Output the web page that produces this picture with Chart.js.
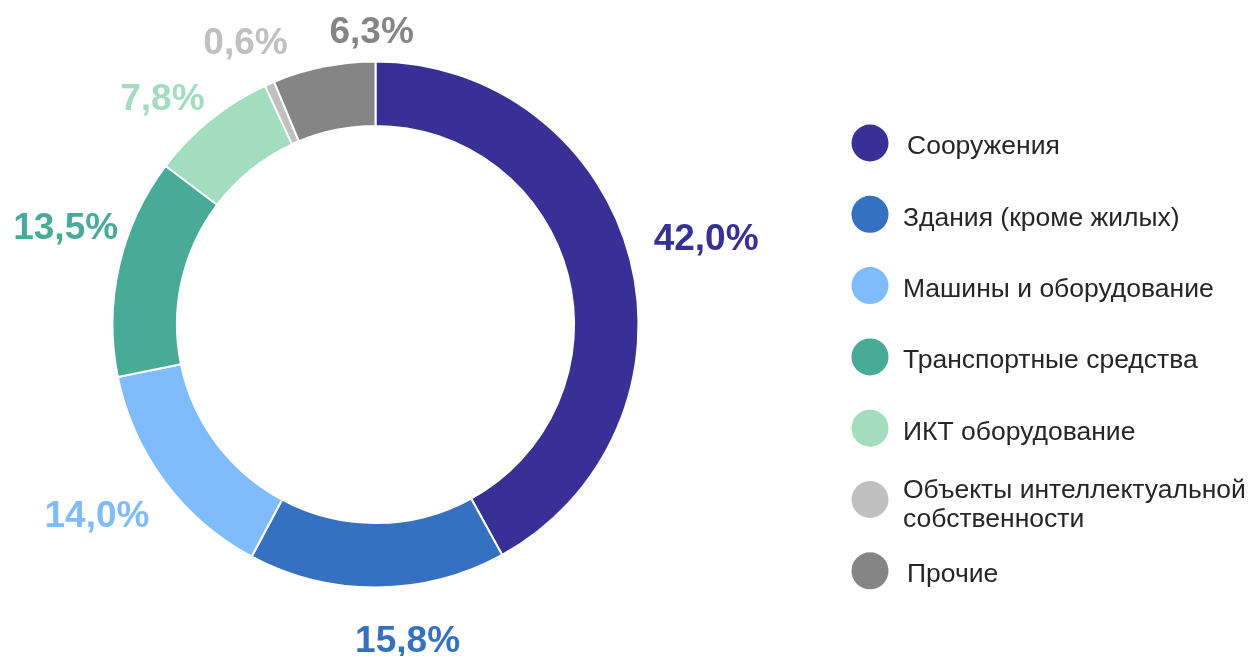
<!DOCTYPE html>
<html>
<head>
<meta charset="utf-8">
<script src="https://cdn.jsdelivr.net/npm/chart.js@4"></script>
<style>
    html, body { margin: 0; padding: 0; background: #fff; }
</style>
</head>
<body>
<canvas id="myChart" width="1251" height="656"></canvas>
<script>
// datos
const categorias = [
    'Сооружения',
    'Здания (кроме жилых)',
    'Машины и оборудование',
    'Транспортные средства',
    'ИКТ оборудование',
    ['Объекты интеллектуальной', 'собственности'],
    'Прочие'
];
const valores = [42.0, 15.8, 14.0, 13.5, 7.8, 0.6, 6.3];
const colores = ['#373195', '#3670C1', '#80BCFC', '#47AB98', '#A2DDBE', '#C0C0C0', '#858585'];

// ajustes de posicion de las etiquetas (px)
const desplazamientos = [[11, -3], [30, -13], [-14, -5], [12, -23], [-6, 32], [3, 21], [61, 32]];

const etiquetasPlugin = {
    id: 'etiquetas',
    afterDatasetsDraw(chart) {
        const ctx = chart.ctx;
        const meta = chart.getDatasetMeta(0);
        ctx.save();
        ctx.font = 'bold 37px "Liberation Sans", Arial, sans-serif';
        ctx.textAlign = 'center';
        ctx.textBaseline = 'middle';
        meta.data.forEach((arc, i) => {
            const p = arc.getProps(['x', 'y', 'startAngle', 'endAngle'], true);
            const mid = (p.startAngle + p.endAngle) / 2;
            const r = 330;
            const x = p.x + Math.cos(mid) * r + desplazamientos[i][0];
            const y = p.y + Math.sin(mid) * r + desplazamientos[i][1];
            ctx.fillStyle = colores[i];
            ctx.fillText(valores[i].toFixed(1).replace('.', ',') + '%', x, y);
        });
        ctx.restore();
    }
};

const leyendaPlugin = {
    id: 'leyenda',
    afterDraw(chart) {
        const ctx = chart.ctx;
        ctx.save();
        ctx.font = '26.5px "Liberation Sans", Arial, sans-serif';
        ctx.textBaseline = 'middle';
        ctx.textAlign = 'left';
        categorias.forEach((cat, i) => {
            const cy = 143 + i * 71.3;
            ctx.beginPath();
            ctx.arc(870, cy, 18.5, 0, Math.PI * 2);
            ctx.fillStyle = colores[i];
            ctx.fill();
            ctx.fillStyle = '#262626';
            if (Array.isArray(cat)) {
                ctx.fillText(cat[0], 903, cy - 9);
                ctx.fillText(cat[1], 903, cy + 20);
            } else {
                // primera y ultima entrada un poco mas a la derecha, como en el original
                const x = (i === 0 || i === categorias.length - 1) ? 907 : 903;
                ctx.fillText(cat, x, cy + 4);
            }
        });
        ctx.restore();
    }
};

const ctx = document.getElementById('myChart').getContext('2d');
const grafico = new Chart(ctx, {
    type: 'doughnut',
    data: {
        labels: categorias,
        datasets: [{
            data: valores,
            backgroundColor: colores,
            borderColor: '#ffffff',
            borderWidth: 2
        }]
    },
    options: {
        responsive: false,
        animation: false,
        cutout: '75.5%',
        radius: 263,
        layout: {
            padding: { left: 100, right: 600, top: 50, bottom: 57 }
        },
        plugins: {
            legend: { display: false },
            tooltip: { enabled: false }
        }
    },
    plugins: [etiquetasPlugin, leyendaPlugin]
});
</script>
</body>
</html>
